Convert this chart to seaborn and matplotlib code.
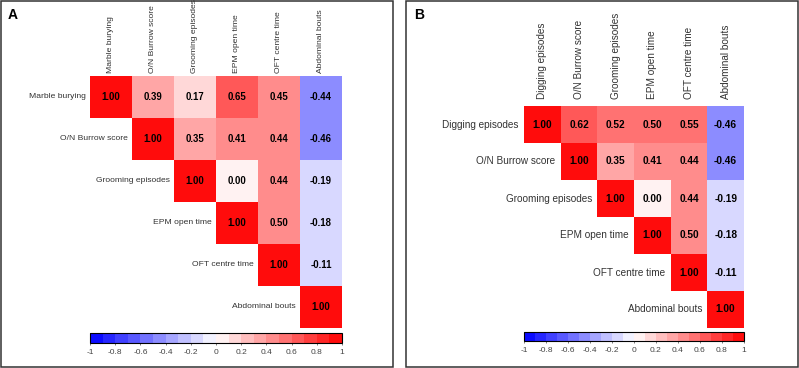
import numpy as np
import pandas as pd
import seaborn as sns
import matplotlib.pyplot as plt
from matplotlib.colors import ListedColormap
from matplotlib.patches import Rectangle

# variable names
labels_a = ["Marble burying", "O/N Burrow score", "Grooming episodes",
            "EPM open time", "OFT centre time", "Abdominal bouts"]
labels_b = ["Digging episodes", "O/N Burrow score", "Grooming episodes",
            "EPM open time", "OFT centre time", "Abdominal bouts"]

# upper triangle of each correlation matrix (row i starts at the diagonal)
upper_a = [
    [1.00, 0.39, 0.17, 0.65, 0.45, -0.44],
    [1.00, 0.35, 0.41, 0.44, -0.46],
    [1.00, 0.00, 0.44, -0.19],
    [1.00, 0.496, -0.18],
    [1.00, -0.11],
    [1.00],
]
upper_b = [
    [1.00, 0.62, 0.52, 0.50, 0.55, -0.46],
    [1.00, 0.35, 0.41, 0.44, -0.46],
    [1.00, 0.00, 0.44, -0.19],
    [1.00, 0.496, -0.18],
    [1.00, -0.11],
    [1.00],
]
cbar_ticks = [-1, -0.8, -0.6, -0.4, -0.2, 0, 0.2, 0.4, 0.6, 0.8, 1]


def build(upper, labels):
    n = len(labels)
    m = np.zeros((n, n))
    for i, row in enumerate(upper):
        m[i, i:] = row
    return pd.DataFrame(m, index=labels, columns=labels)


sns.set_theme(style="white")
plt.rcParams['font.family'] = ['Liberation Sans', 'DejaVu Sans']

# 20 discrete steps of blue-white-red
cmap = ListedColormap(plt.get_cmap('bwr')(np.linspace(0.025, 0.975, 20)))

W, H = 799, 368
fig = plt.figure(figsize=(W / 100, H / 100), dpi=100)


def fr(x0, y0, x1, y1):
    # pixel box (top-left origin) -> figure fraction rect
    return [x0 / W, 1 - y1 / H, (x1 - x0) / W, (y1 - y0) / H]


panels = [
    dict(df=build(upper_a, labels_a), hm=(90, 76, 342, 328), cb=(90, 333, 342, 343),
         fs=6.1, afs=6.9, pad=2, gap=0.1, tag="A", tagpos=(8, 19), box=(0.5, 0.5, 393, 367)),
    dict(df=build(upper_b, labels_b), hm=(524, 106, 744, 328), cb=(524, 332, 744, 341),
         fs=7.2, afs=7.3, pad=5, gap=0.14, tag="B", tagpos=(414, 19), box=(406, 0.5, 798, 367)),
]

for p in panels:
    df = p["df"]
    n = len(df)
    mask = np.tril(np.ones((n, n), dtype=bool), k=-1)
    ax = fig.add_axes(fr(*p["hm"]))
    cax = fig.add_axes(fr(*p["cb"]))
    sns.heatmap(df, mask=mask, cmap=cmap, vmin=-1, vmax=1, annot=True, fmt=".2f",
                annot_kws=dict(color="black", weight="bold", size=p["afs"]),
                cbar_ax=cax, cbar_kws=dict(orientation="horizontal", ticks=cbar_ticks),
                xticklabels=True, yticklabels=False, ax=ax)
    ax.xaxis.tick_top()
    ax.set_xticklabels(df.columns, rotation=90, fontsize=p["fs"], color="#333333")
    ax.tick_params(axis='x', length=0, pad=p["pad"])
    ax.tick_params(axis='y', length=0)
    for i, name in enumerate(df.index):
        ax.text(i - p["gap"], i + 0.5, name, ha="right", va="center",
                fontsize=p["fs"], color="#333333")

    cb = ax.collections[0].colorbar
    cb.outline.set_linewidth(0.8)
    cb.outline.set_edgecolor("black")
    cb.set_ticks(cbar_ticks)
    cb.set_ticklabels([f"{t:g}" for t in cbar_ticks])
    cax.tick_params(axis='x', labelsize=6, length=1.5, width=0.5, colors="#444444", pad=3,
                    bottom=True)

    x0, y0, x1, y1 = p["box"]
    fig.patches.append(Rectangle((x0 / W, 1 - y1 / H), (x1 - x0) / W, (y1 - y0) / H,
                                 transform=fig.transFigure, fill=False,
                                 edgecolor="#333333", linewidth=1.1))
    fig.text(p["tagpos"][0] / W, 1 - p["tagpos"][1] / H, p["tag"],
             fontsize=10, fontweight="bold", color="black")

fig.savefig("out.png", dpi=100)
